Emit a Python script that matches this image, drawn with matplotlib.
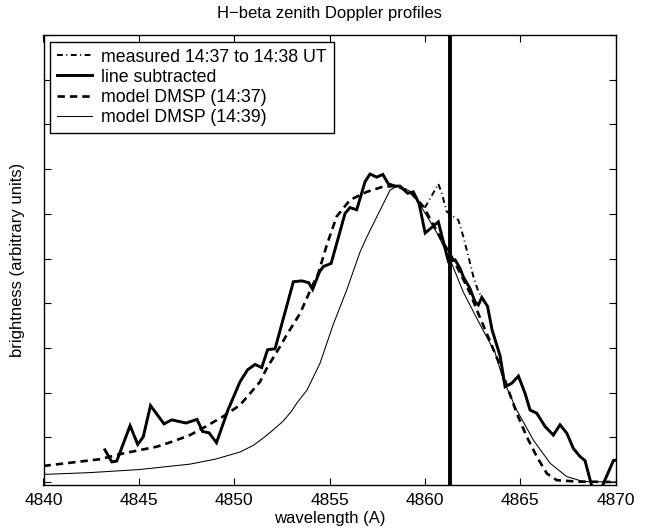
import matplotlib
matplotlib.use("Agg")
import matplotlib.pyplot as plt

plt.rcParams['font.family'] = ['Liberation Sans', 'DejaVu Sans']

# ---- data (wavelength in Angstrom, brightness in arbitrary units) ----
sub_wl = [4843.22, 4843.58, 4843.84, 4844.54, 4844.94, 4845.23, 4845.61, 4846.32, 4846.72,
          4847.47, 4848.05, 4848.34, 4848.68, 4849.07, 4849.67, 4850.30, 4850.70, 4851.09,
          4851.44, 4851.75, 4852.14, 4853.10, 4853.54, 4853.90, 4854.11, 4854.47, 4854.67,
          4855.08, 4855.81, 4856.07, 4856.42, 4856.86, 4857.12, 4857.47, 4857.79, 4858.08,
          4858.43, 4858.69, 4859.09, 4859.39, 4859.69, 4860.01, 4860.70, 4861.05, 4861.23,
          4861.58, 4861.84, 4862.01, 4862.36, 4862.63, 4862.80, 4862.98, 4863.28, 4863.52,
          4863.94, 4864.20, 4864.55, 4864.90, 4865.25, 4865.51, 4865.86, 4866.30, 4866.73,
          4867.08, 4867.44, 4867.78, 4868.13, 4868.39, 4868.75, 4869.29, 4869.88, 4870.02]
sub_val = [0.72, 0.45, 0.47, 1.26, 0.84, 1.01, 1.71, 1.30, 1.39,
           1.32, 1.40, 1.13, 1.10, 0.88, 1.61, 2.24, 2.51, 2.63,
           2.56, 2.96, 2.98, 4.48, 4.50, 4.46, 4.31, 4.70, 4.82,
           4.89, 6.01, 6.14, 6.09, 6.72, 6.89, 6.82, 6.88, 6.67,
           6.62, 6.62, 6.46, 6.49, 6.23, 5.57, 5.82, 5.23, 4.93,
           4.97, 4.78, 4.59, 4.33, 4.03, 3.96, 4.13, 3.93, 3.40,
           2.82, 2.13, 2.21, 2.37, 1.98, 1.61, 1.54, 1.24, 1.05,
           1.28, 1.09, 0.75, 0.57, 0.48, -0.10, -0.10, 0.48, 0.49]

# measured spectrum differs from the line-subtracted one only around H-beta
meas_wl = sub_wl[:41] + [4860.01, 4860.35, 4860.70, 4860.88, 4861.14, 4861.45, 4861.75,
                         4862.01, 4862.28, 4862.54, 4862.80] + sub_wl[51:]
meas_val = sub_val[:41] + [6.15, 6.40, 6.67, 6.46, 6.05, 5.95, 5.86,
                           5.49, 5.04, 4.59, 4.26] + sub_val[51:]

m37_wl = [4840.00, 4842.96, 4844.18, 4845.94, 4846.80, 4847.68, 4848.50, 4849.43, 4850.30,
          4851.35, 4851.70, 4852.40, 4852.75, 4853.45, 4854.03, 4854.41, 4854.85, 4855.37,
          4856.07, 4856.95, 4857.82, 4858.52, 4859.22, 4859.92, 4860.79, 4861.37, 4861.84,
          4862.36, 4862.89, 4863.41, 4863.94, 4864.37, 4864.81, 4865.34, 4865.86, 4866.39,
          4866.91, 4867.96, 4870.00]
m37_val = [0.36, 0.51, 0.64, 0.79, 0.91, 1.05, 1.24, 1.47, 1.72,
           2.24, 2.54, 3.03, 3.29, 3.77, 4.33, 4.67, 5.30, 5.94,
           6.31, 6.49, 6.61, 6.62, 6.49, 6.16, 5.48, 5.06, 4.68,
           4.23, 3.67, 3.15, 2.60, 2.06, 1.54, 1.01, 0.57, 0.19,
           0.04, 0.01, 0.00]

m39_wl = [4840.00, 4842.44, 4845.06, 4847.68, 4849.00, 4850.30, 4851.00, 4851.51, 4852.00,
          4852.56, 4853.00, 4853.29, 4853.82, 4854.50, 4855.18, 4855.90, 4856.60, 4856.95,
          4857.82, 4858.17, 4858.54, 4859.01, 4859.38, 4859.90, 4860.63, 4861.32, 4862.01,
          4862.89, 4863.68, 4864.11, 4864.81, 4865.68, 4866.56, 4867.44, 4868.31, 4870.00]
m39_val = [0.17, 0.21, 0.28, 0.40, 0.51, 0.67, 0.82, 0.98, 1.15,
           1.36, 1.58, 1.77, 2.06, 2.66, 3.51, 4.30, 5.15, 5.48,
           6.23, 6.53, 6.62, 6.55, 6.47, 6.09, 5.57, 4.97, 4.25,
           3.52, 2.89, 2.28, 1.61, 0.94, 0.42, 0.12, 0.01, 0.00]

hbeta_wl = 4861.33
x_ticks = [4840, 4845, 4850, 4855, 4860, 4865, 4870]
y_ticks = [0, 1, 2, 3, 4, 5, 6, 7, 8, 9, 10]

# ---- figure ----
fig = plt.figure(figsize=(6.49, 5.30), dpi=100)
ax = fig.add_axes([43.5 / 649, (530 - 485) / 530, 572.2 / 649, 450 / 530])

ax.plot(meas_wl, meas_val, color='black', lw=1.4, linestyle=(0, (3.0, 1.8, 0.5, 1.8)),
        label='measured 14:37 to 14:38 UT')
ax.plot(sub_wl, sub_val, color='black', lw=2.1, solid_joinstyle='miter',
        label='line subtracted')
ax.plot(m37_wl, m37_val, color='black', lw=1.9, linestyle=(0, (2.8, 1.9)),
        label='model DMSP (14:37)')
ax.plot(m39_wl, m39_val, color='black', lw=0.75, label='model DMSP (14:39)')
ax.axvline(hbeta_wl, color='black', lw=2.8)

ax.set_xlim(4840, 4870)
ax.set_ylim(-0.067, 10)
ax.set_xticks(x_ticks)
ax.set_xticklabels([str(t) for t in x_ticks])
ax.set_yticks(y_ticks)
ax.set_yticklabels([])
ax.tick_params(direction='in', length=5, width=0.8, top=True, right=True,
               labelsize=12.5, pad=6)
for s in ax.spines.values():
    s.set_linewidth(1.0)

ax.set_title('H\u2212beta zenith Doppler profiles', fontsize=12, pad=12.5)
ax.set_xlabel('wavelength (A)', fontsize=12, labelpad=2)
ax.set_ylabel('brightness (arbitrary units)', fontsize=12, labelpad=7.5)

leg = ax.legend(loc='upper left', bbox_to_anchor=(0.0114, 0.985), fontsize=12.8,
                frameon=True, fancybox=False, framealpha=1, edgecolor='black',
                borderaxespad=0, borderpad=0.38, labelspacing=0.18,
                handlelength=2.0, handletextpad=0.5)
leg.get_frame().set_linewidth(1.0)

fig.savefig('out.png', dpi=100)
